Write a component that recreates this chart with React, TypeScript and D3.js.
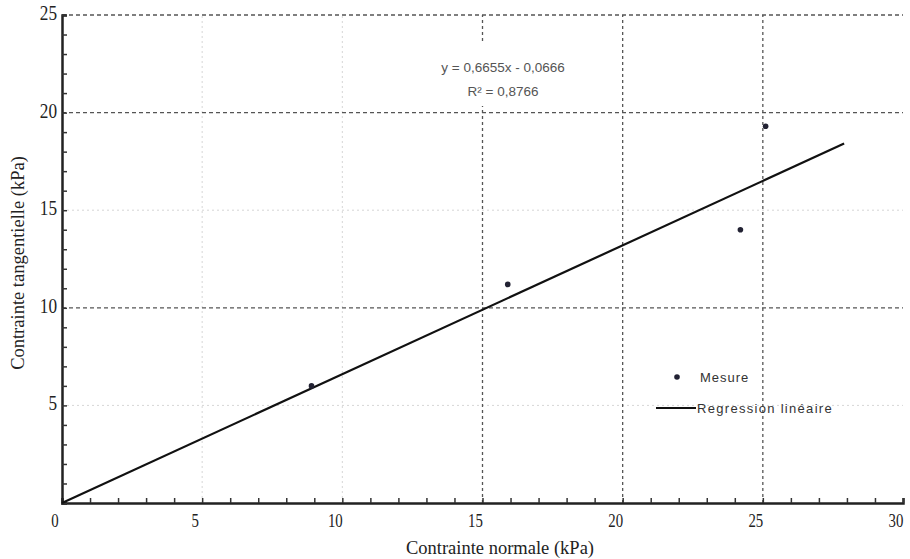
import React, { useEffect, useRef } from 'react';
import * as d3 from 'd3';

// measured points (contrainte normale, contrainte tangentielle)
const mesureX = [8.9, 15.9, 24.2, 25.1];
const mesureY = [6.0, 11.2, 14.0, 19.3];

// regression line
const regSlope = 0.66;
const regIntercept = 0;
const regRange = [0, 27.9];

const xTicks = [0, 5, 10, 15, 20, 25, 30];
const yTicks = [5, 10, 15, 20, 25];
const xGridStrong = [15, 20, 25];
const yGridStrong = [10, 20, 25];
const xGridFaint = [5, 10];
const yGridFaint = [5, 15];

const equationLines = ['y = 0,6655x - 0,0666', 'R² = 0,8766'];

export default function App() {
  const svgRef = useRef<SVGSVGElement>(null);

  useEffect(() => {
    if (!svgRef.current) return;
    const W = 910, H = 559;
    const margin = { left: 62, right: 7, top: 15, bottom: 56 };

    d3.select(svgRef.current).selectAll('*').remove();
    const svg = d3.select(svgRef.current).attr('width', W).attr('height', H);

    svg.append('rect').attr('width', W).attr('height', H).attr('fill', '#fff');

    const x = d3.scaleLinear().domain([0, 30]).range([margin.left, W - margin.right]);
    const y = d3.scaleLinear().domain([0, 25]).range([H - margin.bottom, margin.top]);

    // faint grid
    svg.append('g').selectAll('line').data(xGridFaint).join('line')
      .attr('x1', d => x(d)).attr('x2', d => x(d))
      .attr('y1', y(0)).attr('y2', y(25))
      .attr('stroke', '#d6d6d6').attr('stroke-dasharray', '2,3');
    svg.append('g').selectAll('line').data(yGridFaint).join('line')
      .attr('x1', x(0)).attr('x2', x(30))
      .attr('y1', d => y(d)).attr('y2', d => y(d))
      .attr('stroke', '#d6d6d6').attr('stroke-dasharray', '2,3');

    // strong dashed grid
    svg.append('g').selectAll('line').data(xGridStrong).join('line')
      .attr('x1', d => x(d)).attr('x2', d => x(d))
      .attr('y1', y(0)).attr('y2', y(25))
      .attr('stroke', '#555').attr('stroke-width', 1.3).attr('stroke-dasharray', '3,3');
    svg.append('g').selectAll('line').data(yGridStrong).join('line')
      .attr('x1', x(0)).attr('x2', x(30))
      .attr('y1', d => y(d)).attr('y2', d => y(d))
      .attr('stroke', '#555').attr('stroke-width', 1.3).attr('stroke-dasharray', '4,3');

    // axes
    const xAxis = d3.axisBottom(x).tickValues(d3.range(0, 31, 1)).tickSize(-5).tickFormat(() => '');
    const gx = svg.append('g').attr('transform', `translate(0,${y(0)})`).call(xAxis);
    gx.select('.domain').attr('stroke', '#222').attr('stroke-width', 2.5);
    gx.selectAll('.tick line').attr('stroke', '#333').attr('stroke-width', 1.5);

    const yAxis = d3.axisLeft(y).tickValues(d3.range(0, 26, 1)).tickSize(-5).tickFormat(() => '');
    const gy = svg.append('g').attr('transform', `translate(${x(0)},0)`).call(yAxis);
    gy.select('.domain').attr('stroke', '#222').attr('stroke-width', 2.5);
    gy.selectAll('.tick line').attr('stroke', '#333').attr('stroke-width', 1.5);

    // tick labels (condensed serif digits)
    const labelFont = '"Liberation Serif", "Times New Roman", serif';
    svg.append('g').selectAll('text').data(xTicks).join('text')
      .attr('transform', d => `translate(${x(d) - 7},${y(0) + 24}) scale(0.78,1)`)
      .attr('text-anchor', 'middle')
      .attr('font-family', labelFont).attr('font-size', 19).attr('fill', '#222')
      .text(d => d);
    svg.append('g').selectAll('text').data(yTicks).join('text')
      .attr('transform', d => `translate(${x(0) - 5},${y(d) + 5}) scale(0.82,1)`)
      .attr('text-anchor', 'end')
      .attr('font-family', labelFont).attr('font-size', 21).attr('fill', '#222')
      .text(d => d);

    // axis titles
    svg.append('text')
      .attr('x', 500).attr('y', H - 5)
      .attr('text-anchor', 'middle')
      .attr('font-family', labelFont).attr('font-size', 18.5).attr('fill', '#222')
      .text('Contrainte normale (kPa)');
    svg.append('text')
      .attr('transform', `translate(24,263) rotate(-90)`)
      .attr('text-anchor', 'middle')
      .attr('font-family', labelFont).attr('font-size', 18.5).attr('fill', '#222')
      .text('Contrainte tangentielle (kPa)');

    // regression line
    const line = d3.line<number>().x(d => x(d)).y(d => y(regSlope * d + regIntercept));
    svg.append('path').datum(regRange).attr('d', line)
      .attr('fill', 'none').attr('stroke', '#111').attr('stroke-width', 2.2);

    // points
    svg.append('g').selectAll('circle').data(mesureX).join('circle')
      .attr('cx', d => x(d)).attr('cy', (_, i) => y(mesureY[i]))
      .attr('r', 2.8).attr('fill', '#223');

    // equation on white box
    const eqFont = 'Arial, "Liberation Sans", sans-serif';
    svg.append('rect').attr('x', 438).attr('y', 43).attr('width', 132).attr('height', 63)
      .attr('fill', '#fff');
    svg.append('g').selectAll('text').data(equationLines).join('text')
      .attr('x', 503).attr('y', (_, i) => 72 + i * 24)
      .attr('text-anchor', 'middle')
      .attr('font-family', eqFont).attr('font-size', 13.5).attr('fill', '#555')
      .text(d => d);

    // legend
    const leg = svg.append('g');
    leg.append('circle').attr('cx', 677).attr('cy', 377).attr('r', 2.8).attr('fill', '#223');
    leg.append('text').attr('x', 700).attr('y', 382)
      .attr('font-family', eqFont).attr('font-size', 13).attr('letter-spacing', 1)
      .attr('fill', '#333')
      .text('Mesure');
    leg.append('line').attr('x1', 656).attr('x2', 696).attr('y1', 408).attr('y2', 408)
      .attr('stroke', '#111').attr('stroke-width', 2);
    leg.append('text').attr('x', 697).attr('y', 413)
      .attr('font-family', eqFont).attr('font-size', 13).attr('letter-spacing', 1.3)
      .attr('fill', '#333')
      .text('Regression linéaire');
  }, []);

  return (
    <svg ref={svgRef} style={{ position: 'absolute', left: 0, top: 0 }} />
  );
}
